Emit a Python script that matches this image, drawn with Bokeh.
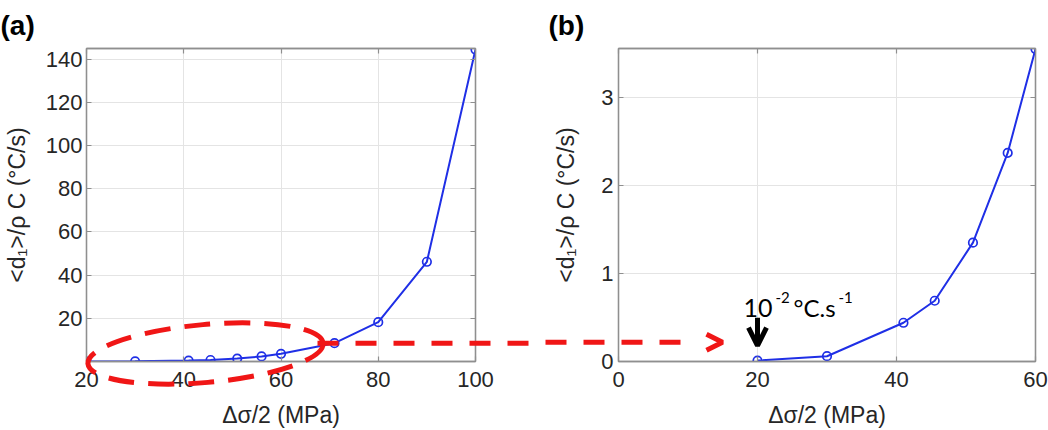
import math
from bokeh.plotting import figure
from bokeh.models import FixedTicker, LinearAxis, Range1d, Label, Arrow, OpenHead
from bokeh.layouts import row
from bokeh.embed import file_html
from bokeh.resources import INLINE
from bokeh.core.properties import value

# ---------------- data ----------------
stress_a = [20, 30, 41, 45.5, 51, 56, 60, 71, 80, 90, 100]
rate_a = [0.01, 0.06, 0.44, 0.69, 1.35, 2.37, 3.55, 8.5, 18.2, 46.2, 144.5]
stress_b = [20, 30, 41, 45.5, 51, 56, 60]
rate_b = [0.01, 0.06, 0.44, 0.69, 1.35, 2.37, 3.55]

xticks_a = [20, 40, 60, 80, 100]
yticks_a = [20, 40, 60, 80, 100, 120, 140]
xticks_b = [0, 20, 40, 60]
yticks_b = [0, 1, 2, 3]

x_label = "Δσ/2 (MPa)"
y_label = "<d₁>/ρ C (°C/s)"
panel_titles = ["(a)", "(b)"]
note_parts = ["10", "-2", "°C.s", "-1"]

# ---------------- style ----------------
BLUE = "#1f2fe6"
RED = "#f01616"
FRAME = "#8f8f8f"
GRID = "#e4e4e4"
TXT = "#262626"
FONT = "Liberation Sans"

H = 430
# panel (a) geometry
WA, LA, RA, TA, BA = 540, 86, 65, 48, 69
# panel (b) geometry
WB, LB, RB, TB, BB = 508, 78, 13, 48, 68
XA0, XA1, YA0, YA1 = 20, 100, 0, 145
XB0, XB1, YB0, YB1 = 0, 60, 0, 3.556


def a_x(px):  # global pixel -> data (a)
    return XA0 + (px - LA) * (XA1 - XA0) / (WA - LA - RA)


def a_ypx(y):
    return TA + (YA1 - y) * (H - TA - BA) / (YA1 - YA0)


def a_y(py):
    return YA1 - (py - TA) * (YA1 - YA0) / (H - TA - BA)


def b_x(px):  # global pixel -> data (b)
    return XB0 + (px - WA - LB) * (XB1 - XB0) / (WB - LB - RB)


def b_y(py):
    return YB1 - (py - TB) * (YB1 - YB0) / (H - TB - BB)


def make_panel(w, l, r, t, b, xr, yr, xt, yt, ylab_stand, ytick_stand):
    p = figure(width=w, height=H, x_range=Range1d(*xr), y_range=Range1d(*yr),
               output_backend="svg", toolbar_location=None,
               min_border_left=l, min_border_right=r, min_border_top=t, min_border_bottom=b,
               background_fill_color="white", border_fill_color="white")
    p.add_layout(LinearAxis(), "right")
    p.add_layout(LinearAxis(), "above")
    for ax in p.xaxis:
        ax.ticker = FixedTicker(ticks=xt)
    for ax in p.yaxis:
        ax.ticker = FixedTicker(ticks=yt)
    for ax in p.axis:
        ax.axis_line_color = FRAME
        ax.axis_line_width = 1.3
        ax.major_tick_in = 5
        ax.major_tick_out = 0
        ax.major_tick_line_color = FRAME
        ax.major_tick_line_width = 1.2
        ax.minor_tick_line_color = None
        ax.major_label_text_font = FONT
        ax.major_label_text_font_size = "22px"
        ax.major_label_text_color = TXT
        ax.axis_label_text_font = FONT
        ax.axis_label_text_font_size = "23px"
        ax.axis_label_text_font_style = "normal"
        ax.axis_label_text_color = TXT
    # mirrored axes: ticks only, no labels drawn
    for ax in (p.right[0], p.above[0]):
        ax.major_label_text_font_size = "1px"
        ax.major_label_text_color = None
        ax.major_label_standoff = 0
    p.below[0].axis_label = x_label
    p.below[0].major_label_standoff = 10
    p.below[0].axis_label_standoff = 12
    p.left[0].axis_label = y_label
    p.left[0].major_label_standoff = ytick_stand
    p.left[0].axis_label_standoff = ylab_stand
    p.xgrid.ticker = FixedTicker(ticks=xt)
    p.ygrid.ticker = FixedTicker(ticks=yt)
    p.grid.grid_line_color = GRID
    p.grid.grid_line_width = 1
    p.outline_line_color = FRAME
    p.outline_line_width = 1.3
    return p


pa = make_panel(WA, LA, RA, TA, BA, (XA0, XA1), (YA0, YA1), xticks_a, yticks_a, 13, 4)
pb = make_panel(WB, LB, RB, TB, BB, (XB0, XB1), (YB0, YB1), xticks_b, yticks_b, 19, 5)

for p, xs, ys in ((pa, stress_a, rate_a), (pb, stress_b, rate_b)):
    p.line(xs, ys, line_color=BLUE, line_width=2)
    p.scatter(xs, ys, marker="circle", size=8.5, fill_color=None, line_color=BLUE, line_width=1.7)

# ---- panel tags "(a)" and "(b)" in the top-left corners
pa.text(x=[a_x(0)], y=[a_y(25)], text=[panel_titles[0]], text_font=value(FONT),
        text_font_size="28px", text_font_style="bold", text_color="black",
        text_baseline="alphabetic", level="overlay")
pb.text(x=[b_x(548)], y=[b_y(25)], text=[panel_titles[1]], text_font=value(FONT),
        text_font_size="28px", text_font_style="bold", text_color="black",
        text_baseline="alphabetic", level="overlay")

# ---- red dashed ellipse around the low-stress points in (a)
p_link = a_ypx(rate_a[7])  # pixel row of the link arrow
pa.ellipse(x=[a_x(205)], y=[a_y(353)], width=[236], height=[58],
           width_units="screen", height_units="screen", angle=math.radians(5),
           fill_color=None, line_color=RED, line_width=5, line_dash="26 14", level="overlay")

# ---- red dashed link arrow from (a) to (b)
pa.line([a_x(317), a_x(WA + 6)], [rate_a[7], rate_a[7]], line_color=RED, line_width=5,
        line_dash="21 17", level="overlay")
pb.line([b_x(WA), b_x(690)], [b_y(p_link), b_y(p_link)], line_color=RED, line_width=5,
        line_dash="21 17", line_dash_offset=(WA - 317) % 38, level="overlay")
pb.add_layout(Arrow(end=OpenHead(size=16, line_color=RED, line_width=5),
                    x_start=b_x(700), x_end=b_x(722), y_start=b_y(p_link), y_end=b_y(p_link),
                    line_alpha=0.0))

# ---- black arrow and note at the first point of (b)
pb.add_layout(Arrow(end=OpenHead(size=18, line_color="black", line_width=5),
                    x_start=stress_b[0], x_end=stress_b[0], y_start=b_y(318), y_end=b_y(346),
                    line_color="black", line_width=5))
nx, ny = b_x(743), b_y(308)
offs = [(0, 0, "25px"), (32, 10, "15px"), (50, 0, "24px"), (95, 10, "15px")]
for txt, (dx, dy, fs) in zip(note_parts, offs):
    pb.add_layout(Label(x=nx, y=ny, x_offset=dx, y_offset=dy, text=txt, text_font="Lato",
                        text_font_size=fs, text_color="black", text_baseline="alphabetic"))

layout = row(pa, pb)
open("out.html", "w").write(file_html(layout, INLINE))
